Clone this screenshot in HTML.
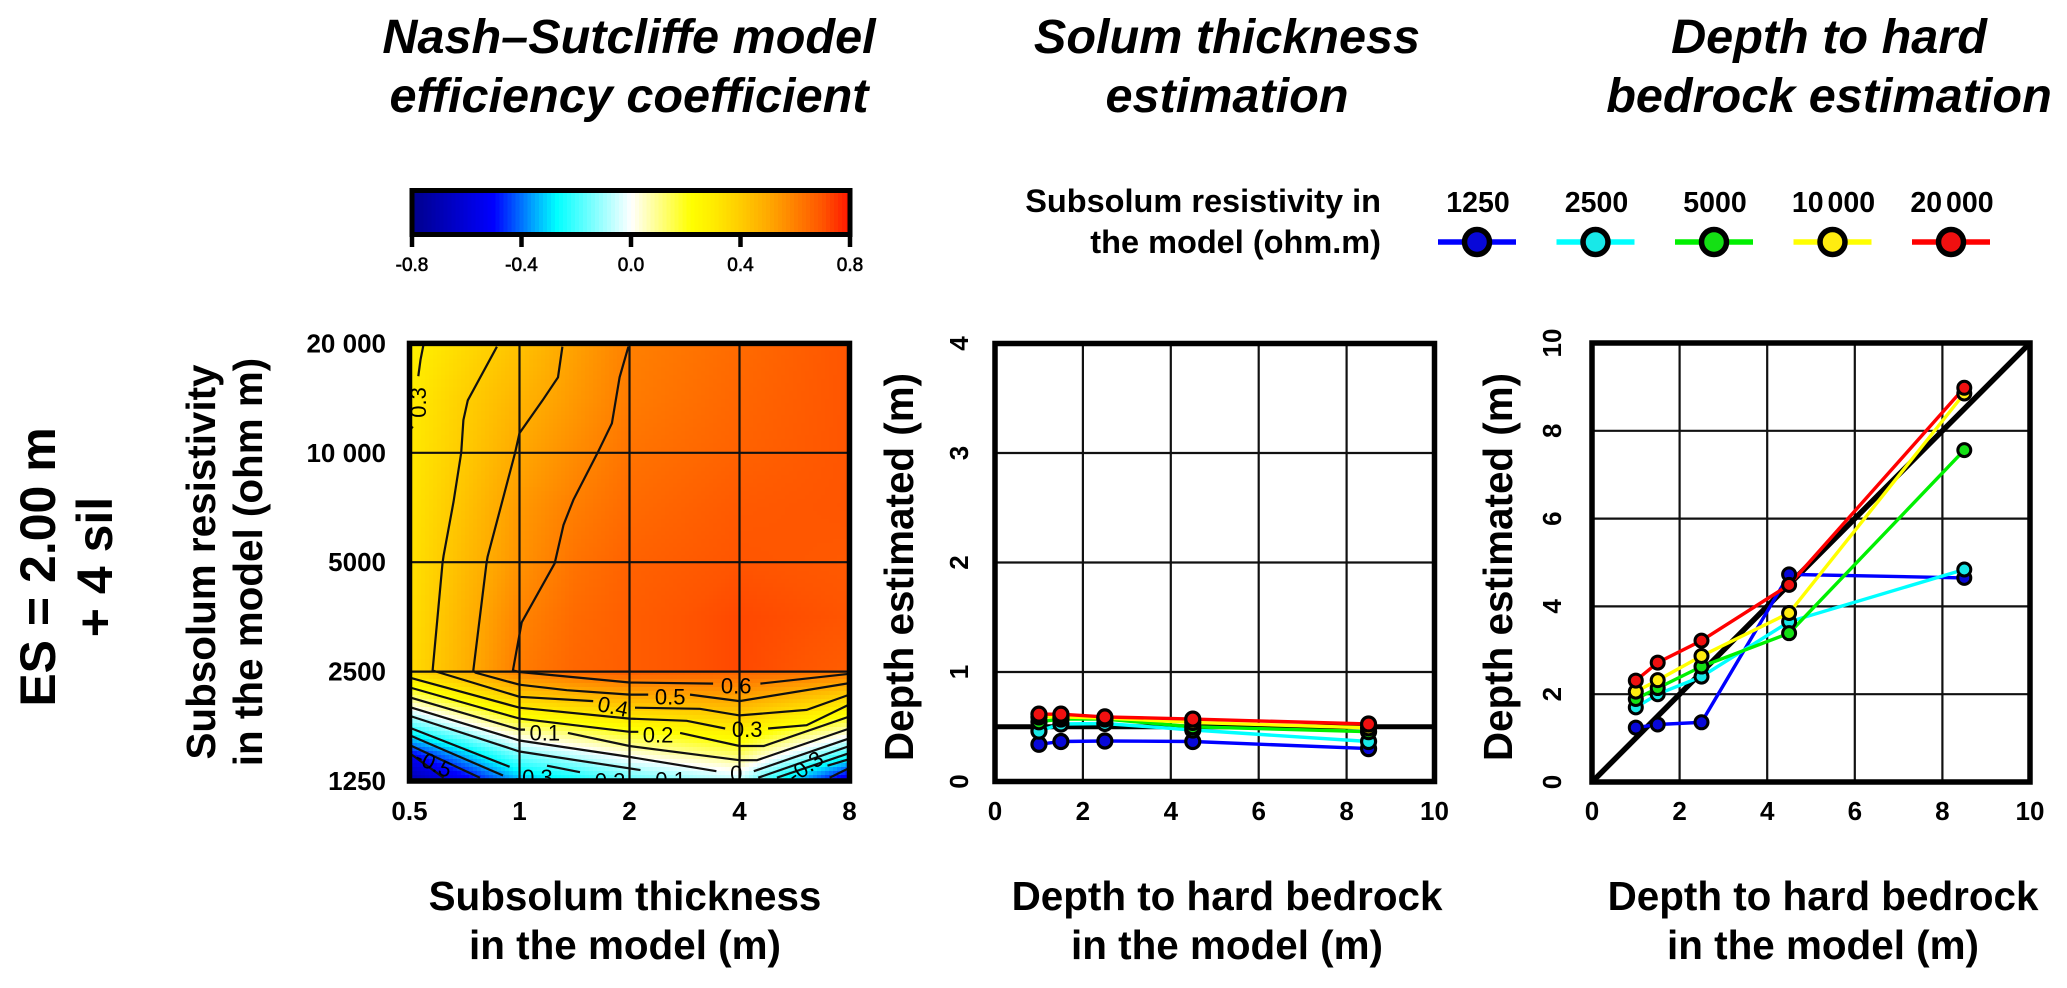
<!DOCTYPE html>
<html lang="en">
<head>
<meta charset="utf-8">
<title>Nash–Sutcliffe, solum thickness and depth to bedrock estimation</title>
<style>
html,body{margin:0;padding:0;background:#fff;}
svg{display:block;}
text{font-family:"Liberation Sans",Arial,sans-serif;fill:#000;}
.title{font-size:48.6px;font-weight:bold;font-style:italic;text-anchor:middle;}
.axis{font-size:40.4px;font-weight:bold;text-anchor:middle;}
.tick{font-size:26px;font-weight:bold;}
.side{font-size:50px;font-weight:bold;text-anchor:middle;}
.legt{font-size:32.5px;font-weight:bold;text-anchor:end;}
</style>
</head>
<body>
<svg id="fig" width="2067" height="988" viewBox="0 0 2067 988" xmlns="http://www.w3.org/2000/svg">
  <defs>
    <clipPath id="clip-heat"><rect x="409.5" y="343.5" width="440" height="437.5"/></clipPath>
    <clipPath id="clip-p2"><rect x="995" y="343.5" width="439.5" height="438"/></clipPath>
    <clipPath id="clip-p3"><rect x="1592" y="343" width="438" height="439"/></clipPath>
  </defs>

  <text class="title" x="629" y="53">Nash–Sutcliffe model</text>
  <text class="title" x="629" y="112">efficiency coefficient</text>
  <text class="title" x="1227" y="53">Solum thickness</text>
  <text class="title" x="1227" y="112">estimation</text>
  <text class="title" x="1829" y="53">Depth to hard</text>
  <text class="title" x="1829" y="112">bedrock estimation</text>

  <g transform="translate(55,567) rotate(-90)"><text class="side" x="0" y="0">ES = 2.00 m</text></g>
  <g transform="translate(112,567) rotate(-90)"><text class="side" x="0" y="0">+ 4 sil</text></g>

  <g transform="translate(215,562) rotate(-90)"><text class="axis" x="0" y="0">Subsolum resistivity</text></g>
  <g transform="translate(262,562) rotate(-90)"><text class="axis" x="0" y="0">in the model (ohm m)</text></g>
  <text class="axis" x="625" y="910">Subsolum thickness</text>
  <text class="axis" x="625" y="959">in the model (m)</text>

  <g transform="translate(913,567) rotate(-90)"><text class="axis" x="0" y="0">Depth estimated (m)</text></g>
  <text class="axis" x="1227" y="910">Depth to hard bedrock</text>
  <text class="axis" x="1227" y="959">in the model (m)</text>

  <g transform="translate(1512,567) rotate(-90)"><text class="axis" x="0" y="0">Depth estimated (m)</text></g>
  <text class="axis" x="1823" y="910">Depth to hard bedrock</text>
  <text class="axis" x="1823" y="959">in the model (m)</text>

  <text class="legt" x="1381" y="212">Subsolum resistivity in</text>
  <text class="legt" x="1381" y="253">the model (ohm.m)</text>

  <g id="colorbar"></g>
  <g id="legend"></g>
  <g id="heatmap"></g>
  <g id="solum"></g>
  <g id="bedrock"></g>
</svg>

<script>
// ---------- Colour scale ----------
const colorStopValues = [-0.8, -0.5, -0.36, -0.27, 0, 0.22, 0.3, 0.4, 0.5, 0.6, 0.7, 0.8];
const colorStopColors = ['#00008b', '#0000ff', '#00a0ff', '#00ffff', '#ffffff', '#ffff00', '#ffec00', '#ffcc00', '#ffaa00', '#ff8000', '#ff5500', '#ff1500'];
const colorbarTicks = [-0.8, -0.4, 0, 0.4, 0.8];
const colorbarTickLabels = ['-0.8', '-0.4', '0.0', '0.4', '0.8'];

// ---------- Heatmap data (octaves: log2 of thickness / 0.5 m and of resistivity / 1250 ohm m) ----------
const thicknessTickLabels = ['0.5', '1', '2', '4', '8'];
const resistivityTickLabels = ['1250', '2500', '5000', '10 000', '20 000'];
const thicknessOctaves = [0, 0.5, 1, 1.5, 2, 3, 4];
const resistivityOctaves = [0, 0.25, 0.5, 0.75, 0.999, 1, 1.5, 2, 2.5, 3, 3.5, 4];
const efficiencyGrid = [
  [-0.72, -0.54, -0.35, -0.27, -0.18, -0.07, -0.60],
  [-0.50, -0.32, -0.13, -0.05, 0.03, 0.14, -0.20],
  [-0.185, -0.03, 0.13, 0.185, 0.24, 0.32, 0.11],
  [0.095, 0.24, 0.38, 0.43, 0.47, 0.515, 0.36],
  [0.36, 0.48, 0.60, 0.65, 0.68, 0.66, 0.62],
  [0.35, 0.48, 0.61, 0.66, 0.68, 0.72, 0.68],
  [0.34, 0.47, 0.59, 0.65, 0.68, 0.72, 0.70],
  [0.33, 0.45, 0.555, 0.63, 0.67, 0.70, 0.69],
  [0.32, 0.43, 0.54, 0.605, 0.65, 0.69, 0.70],
  [0.31, 0.405, 0.505, 0.57, 0.63, 0.67, 0.70],
  [0.30, 0.39, 0.47, 0.54, 0.61, 0.66, 0.70],
  [0.28, 0.355, 0.43, 0.52, 0.60, 0.65, 0.70]
];
// contour traces as [thickness octave, resistivity octave]
const contour03Upper = [[0.125,3.98],[0.1,3.85],[0.08,3.7]];
const contour03Stub = [[0.03,3.24],[0,3.2]];
const contour04 = [[0.795,3.97],[0.53,3.48],[0.49,3.3],[0.47,3.0],[0.40,2.55],[0.31,2.06],[0.30,1.99],[0.21,1.01],[1,0.77],[1.67,0.73]];
const contour04Right = [[2.05,0.67],[2.64,0.66],[3,0.6],[3.61,0.65],[4,0.79]];
const contour05 = [[1.39,3.97],[1.35,3.69],[1.21,3.48],[1.0,3.18],[0.96,3.0],[0.71,2.05],[0.70,1.99],[0.58,1.01],[0.6,0.99],[1,0.88],[1.43,0.83],[2,0.79],[2.17,0.79]];
const contour05Right = [[2.55,0.79],[3,0.73],[4,0.895]];
const contour06 = [[1.99,3.97],[1.91,3.69],[1.84,3.27],[1.71,3.0],[1.49,2.57],[1.40,2.34],[1.32,1.99],[1.02,1.45],[0.94,1.01],[1,0.996],[2,0.90],[2.76,0.89]];
const contour06Right = [[3.19,0.89],[4,0.98]];
const contour03Lower = [[0.02,0.94],[1,0.67],[2,0.57],[2.52,0.55],[2.87,0.48]];
const contour03Right = [[3.26,0.48],[3.61,0.51],[4,0.70]];
const contour02 = [[0.02,0.85],[1,0.57],[2,0.45],[2.08,0.45]];
const contour02Right = [[2.46,0.44],[3,0.32],[3.22,0.32],[4,0.59]];
const contour01 = [[0.02,0.76],[1,0.47],[1.05,0.47]];
const contour01Right = [[1.44,0.44],[2,0.32],[3,0.19],[3.16,0.19],[4,0.48]];
const contour00 = [[0.02,0.67],[1,0.37],[2,0.22],[2.79,0.09]];
const contour00Right = [[3.13,0.09],[4,0.39]];
const contourM01 = [[0.02,0.59],[1,0.27],[2.1,0.10]];
const contourM01Right = [[3.17,0.03],[4,0.32]];
const contourM02 = [[0.02,0.48],[0.91,0.13]];
const contourM02Mid = [[1.25,0.14],[1.55,0.08]];
const contourM02Right = [[3.34,0.03],[4,0.255]];
const contourM03 = [[0.02,0.41],[0.85,0.05]];
const contourM03End = [[3.8,0.14],[4,0.2]];
const contourM04 = [[0.02,0.32],[0.64,0.03]];
const contourM05 = [[0.02,0.24],[0.31,0.03]];
const contourM05Right = [[3.82,0.03],[4,0.12]];
const contourTraces = [contour03Upper, contour03Stub, contour04, contour04Right, contour05, contour05Right, contour06, contour06Right, contour03Lower, contour03Right, contour02, contour02Right, contour01, contour01Right, contour00, contour00Right, contourM01, contourM01Right, contourM02, contourM02Mid, contourM02Right, contourM03, contourM03End, contourM04, contourM05, contourM05Right];
const contourLabelTexts = ['0.6','0.5','0.4','0.3','0.2','0.1','-0.3','-0.2','-0.1','0','-0.3','-0.5','0.3'];
const contourLabelThickness = [2.97,2.37,1.85,3.07,2.26,1.23,1.13,1.79,2.34,2.97,3.6,0.22,0.08];
const contourLabelResistivity = [0.87,0.77,0.68,0.47,0.42,0.44,0.03,0,0.01,0.07,0.13,0.16,3.46];
const contourLabelAngles = [0,0,12,0,0,0,0,0,0,0,-35,25,-90];

// ---------- Scatter data ----------
const modelDepths = [1, 1.5, 2.5, 4.5, 8.5];
const seriesNames = ['1250', '2500', '5000', '10000', '20000'];
const legendLabels = ['1250', '2500', '5000', '10 000', '20 000'];
const solum1250 = [0.34, 0.365, 0.37, 0.365, 0.30];
const solum2500 = [0.46, 0.525, 0.53, 0.47, 0.365];
const solum5000 = [0.545, 0.57, 0.57, 0.50, 0.455];
const solum10000 = [0.59, 0.59, 0.58, 0.54, 0.49];
const solum20000 = [0.615, 0.615, 0.59, 0.57, 0.525];
const bedrock1250 = [1.24, 1.31, 1.36, 4.73, 4.65];
const bedrock2500 = [1.70, 2.0, 2.40, 3.65, 4.84];
const bedrock5000 = [1.89, 2.14, 2.63, 3.39, 7.56];
const bedrock10000 = [2.06, 2.32, 2.87, 3.85, 8.85];
const bedrock20000 = [2.31, 2.72, 3.22, 4.49, 8.98];
const solumSeries = [solum1250, solum2500, solum5000, solum10000, solum20000];
const bedrockSeries = [bedrock1250, bedrock2500, bedrock5000, bedrock10000, bedrock20000];
const solumReference = [0.5];
const xTickValues = [0, 2, 4, 6, 8, 10];
const solumYTicks = [0, 1, 2, 3, 4];
const bedrockYTicks = [0, 2, 4, 6, 8, 10];
const lineColors = ['#0000ff', '#00ffff', '#00f000', '#ffff00', '#ff0000'];
const fillColors = ['#0808d8', '#18e8e8', '#14e014', '#ffec10', '#f01010'];

// ---------- Helpers ----------
const NS = 'http://www.w3.org/2000/svg';
function mk(tag, parent, props) {
  const e = document.createElementNS(NS, tag);
  for (const k in props) e.setAttribute(k, props[k]);
  parent.appendChild(e);
  return e;
}
function hexRgb(h) { return [parseInt(h.slice(1,3),16), parseInt(h.slice(3,5),16), parseInt(h.slice(5,7),16)]; }
function colorOf(v) {
  const n = colorStopValues.length;
  if (v <= colorStopValues[0]) return colorStopColors[0];
  if (v >= colorStopValues[n-1]) return colorStopColors[n-1];
  for (let i = 0; i < n-1; i++) {
    if (v <= colorStopValues[i+1]) {
      const f = (v - colorStopValues[i]) / (colorStopValues[i+1] - colorStopValues[i]);
      const a = hexRgb(colorStopColors[i]), b = hexRgb(colorStopColors[i+1]);
      return 'rgb(' + Math.round(a[0]+(b[0]-a[0])*f) + ',' + Math.round(a[1]+(b[1]-a[1])*f) + ',' + Math.round(a[2]+(b[2]-a[2])*f) + ')';
    }
  }
}
function segIndex(arr, v) {
  for (let i = 0; i < arr.length-2; i++) if (v <= arr[i+1]) return i;
  return arr.length-2;
}
function gridValue(t, u) {
  const c = segIndex(thicknessOctaves, t), r = segIndex(resistivityOctaves, u);
  const ft = (t - thicknessOctaves[c]) / (thicknessOctaves[c+1] - thicknessOctaves[c]);
  const fu = (u - resistivityOctaves[r]) / (resistivityOctaves[r+1] - resistivityOctaves[r]);
  const g = efficiencyGrid;
  return (g[r][c]*(1-ft)+g[r][c+1]*ft)*(1-fu) + (g[r+1][c]*(1-ft)+g[r+1][c+1]*ft)*fu;
}

// ---------- Colour bar ----------
const cbar = document.getElementById('colorbar');
const cbX = v => 412 + (v + 0.8) / 1.6 * 438;
for (let i = 0; i < 110; i++) {
  const v = -0.8 + 1.6 * (i + 0.5) / 110;
  const seg = mk('rect', cbar, {x: cbX(v) - 2.2, y: 190, width: 4.4, height: 45, fill: colorOf(v), 'shape-rendering': 'crispEdges'});
  
  
}
const cbFrame = mk('rect', cbar, {x: 412, y: 190.5, width: 438, height: 44, fill: 'none', stroke: '#000', 'stroke-width': 5});


colorbarTicks.forEach((v, i) => {
  const tk = mk('line', cbar, {x1: cbX(v), x2: cbX(v), y1: 235, y2: 247, stroke: '#000', 'stroke-width': 4.5});
  
  
  const lb = mk('text', cbar, {x: cbX(v), y: 271, 'text-anchor': 'middle', 'font-size': 19, stroke: '#000', 'stroke-width': 0.6});
  lb.textContent = colorbarTickLabels[i];
  
  
});

// ---------- Legend ----------
const legendG = document.getElementById('legend');
const legendStart = 1477, legendStep = 118.5;
seriesNames.forEach((s, i) => {
  const cx = legendStart + i * legendStep;
  const lab = mk('text', legendG, {x: cx + 1, y: 212, 'text-anchor': 'middle', 'font-size': 28.5, 'font-weight': 'bold', 'word-spacing': '-4px'});
  lab.textContent = legendLabels[i];
  
  
  const ln = mk('line', legendG, {x1: cx - 39, x2: cx + 39, y1: 242, y2: 242, stroke: lineColors[i], 'stroke-width': 5.5});
  
  
  const mkr = mk('circle', legendG, {cx: cx, cy: 242, r: 12.5, fill: fillColors[i], stroke: '#000', 'stroke-width': 5.5});
  
  
});

// ---------- Heatmap ----------
const heat = document.getElementById('heatmap');
const hx = t => 409.5 + t * 110;
const hy = u => 781 - u * 109.4;
const hxInv = x => (x - 409.5) / 110;
const hyInv = y => (781 - y) / 109.4;
const CELL = 4;
const cellsG = mk('g', heat, {'clip-path': 'url(#clip-heat)', 'shape-rendering': 'crispEdges'});


for (let y = 343; y < 782; y += CELL) {
  for (let x = 409; x < 851; x += CELL) {
    const cell = mk('rect', cellsG, {x: x, y: y, width: CELL, height: CELL, fill: colorOf(gridValue(Math.min(4, hxInv(x + CELL/2)), Math.max(0, Math.min(4, hyInv(y + CELL/2)))))});
    
    
  }
}
const hGridG = mk('g', heat, {'clip-path': 'url(#clip-heat)'});


[1, 2, 3].forEach(t => {
  const l = mk('line', hGridG, {x1: hx(t), x2: hx(t), y1: hy(0), y2: hy(4), stroke: '#111', 'stroke-width': 2.2});
  
  
  const m = mk('line', hGridG, {x1: hx(0), x2: hx(4), y1: hy(t), y2: hy(t), stroke: '#111', 'stroke-width': 2.2});
  
  
});
const contG = mk('g', heat, {'clip-path': 'url(#clip-heat)'});


contourTraces.forEach(tr => {
  const p = mk('polyline', contG, {points: tr.map(q => hx(q[0]).toFixed(1) + ',' + hy(q[1]).toFixed(1)).join(' '), fill: 'none', stroke: '#111', 'stroke-width': 2.2});
  
  
});
contourLabelTexts.forEach((s, i) => {
  const X = hx(contourLabelThickness[i]), Y = hy(contourLabelResistivity[i]);
  const tx = mk('text', contG, {x: X, y: Y, 'text-anchor': 'middle', 'dominant-baseline': 'central', 'font-size': 22, fill: '#111', transform: 'rotate(' + contourLabelAngles[i] + ' ' + X + ' ' + Y + ')'});
  tx.textContent = s;
  
  
});
const hFrame = mk('rect', heat, {x: hx(0), y: hy(4), width: hx(4) - hx(0), height: hy(0) - hy(4), fill: 'none', stroke: '#000', 'stroke-width': 5.5});


thicknessTickLabels.forEach((s, i) => {
  const t = mk('text', heat, {x: hx(i), y: 820, 'text-anchor': 'middle', 'class': 'tick'});
  t.textContent = s;
  
  
});
resistivityTickLabels.forEach((s, i) => {
  const t = mk('text', heat, {x: 386, y: hy(i) + 9, 'text-anchor': 'end', 'class': 'tick'});
  t.textContent = s;
  
  
});

// ---------- Scatter panels ----------
function scatterPanel(root, clipId, sx, sy, yTicks, series, labelX, markerR, markerW, drawRef) {
  const gridG = mk('g', root, {});
  
  
  xTickValues.slice(1, -1).forEach(v => {
    const l = mk('line', gridG, {x1: sx(v), x2: sx(v), y1: sy(yTicks[0]), y2: sy(yTicks[yTicks.length-1]), stroke: '#111', 'stroke-width': 2.2});
    
    
  });
  yTicks.slice(1, -1).forEach(v => {
    const l = mk('line', gridG, {x1: sx(0), x2: sx(10), y1: sy(v), y2: sy(v), stroke: '#111', 'stroke-width': 2.2});
    
    
  });
  const dataG = mk('g', root, {'clip-path': 'url(#' + clipId + ')'});
  
  
  drawRef(dataG);
  series.forEach((vals, i) => {
    const pl = mk('polyline', dataG, {points: vals.map((v, j) => sx(modelDepths[j]).toFixed(1) + ',' + sy(v).toFixed(1)).join(' '), fill: 'none', stroke: lineColors[i], 'stroke-width': 3.4});
    
    
  });
  series.forEach((vals, i) => {
    vals.forEach((v, j) => {
      const c = mk('circle', dataG, {cx: sx(modelDepths[j]), cy: sy(v), r: markerR, fill: fillColors[i], stroke: '#000', 'stroke-width': markerW});
      
      
    });
  });
  const fr = mk('rect', root, {x: sx(0), y: sy(yTicks[yTicks.length-1]), width: sx(10) - sx(0), height: sy(yTicks[0]) - sy(yTicks[yTicks.length-1]), fill: 'none', stroke: '#000', 'stroke-width': 5.5});
  
  
  xTickValues.forEach(v => {
    const t = mk('text', root, {x: sx(v), y: 820, 'text-anchor': 'middle', 'class': 'tick'});
    t.textContent = String(v);
    
    
  });
  yTicks.forEach(v => {
    const Y = sy(v);
    const t = mk('text', root, {x: labelX, y: Y, 'text-anchor': 'middle', 'class': 'tick', transform: 'rotate(-90 ' + labelX + ' ' + Y + ')'});
    t.textContent = String(v);
    
    
  });
}

const s2x = v => 995 + v * 43.95;
const s2y = v => 781.5 - v * 109.5;
scatterPanel(document.getElementById('solum'), 'clip-p2', s2x, s2y, solumYTicks, solumSeries, 968, 7, 3.2, g => {
  const r = mk('line', g, {x1: s2x(0), x2: s2x(10), y1: s2y(solumReference[0]), y2: s2y(solumReference[0]), stroke: '#000', 'stroke-width': 5});
  
  
});

const s3x = v => 1592 + v * 43.8;
const s3y = v => 782 - v * 43.9;
scatterPanel(document.getElementById('bedrock'), 'clip-p3', s3x, s3y, bedrockYTicks, bedrockSeries, 1561, 6.5, 3, g => {
  const r = mk('line', g, {x1: s3x(0), x2: s3x(10), y1: s3y(0), y2: s3y(10), stroke: '#000', 'stroke-width': 5.5});
  
  
});
</script>
</body>
</html>
